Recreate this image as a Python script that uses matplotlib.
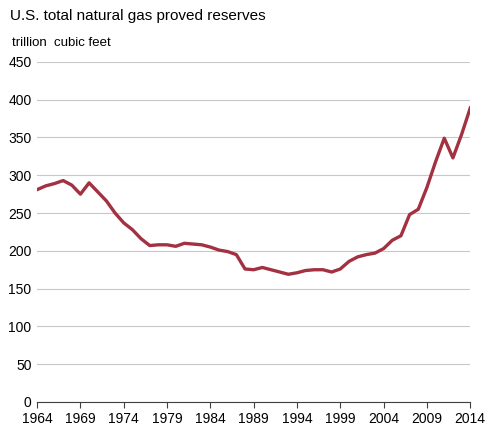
import matplotlib
matplotlib.use("Agg")
import matplotlib.pyplot as plt

years = list(range(1964, 2015))
reserves = [281, 286, 289, 293, 287, 275, 290, 278, 266, 250, 237, 228, 216, 207, 208,
            208, 206, 210, 209, 208, 205, 201, 199, 195, 176, 175, 178, 175, 172, 169,
            171, 174, 175, 175, 172, 176, 186, 192, 195, 197, 203, 214, 220, 248, 255,
            284, 318, 349, 323, 354, 389]
xticks = list(range(1964, 2015, 5))
yticks = list(range(0, 451, 50))

plt.rcParams['font.family'] = ['Liberation Sans', 'DejaVu Sans']
fig = plt.figure(figsize=(4.95, 4.36), dpi=100)
ax = fig.add_axes([0.075, 0.078, 0.875, 0.78])
ax.plot(years, reserves, color='#a23142', lw=2.4)
ax.set_xlim(1964, 2014)
ax.set_ylim(0, 450)
ax.set_xticks(xticks)
ax.set_yticks(yticks)
ax.grid(axis='y', color='#c8c8c8', lw=0.8)
ax.set_axisbelow(True)
for s in ['top', 'right', 'left']:
    ax.spines[s].set_visible(False)
ax.spines['bottom'].set_color('#404040')
ax.tick_params(axis='y', length=0, labelsize=10, pad=4)
ax.tick_params(axis='x', length=4, labelsize=10, color='#404040')
fig.text(0.02, 0.955, 'U.S. total natural gas proved reserves', fontsize=11)
fig.text(0.025, 0.895, 'trillion  cubic feet', fontsize=9.5)
fig.savefig('out.png', dpi=100)
